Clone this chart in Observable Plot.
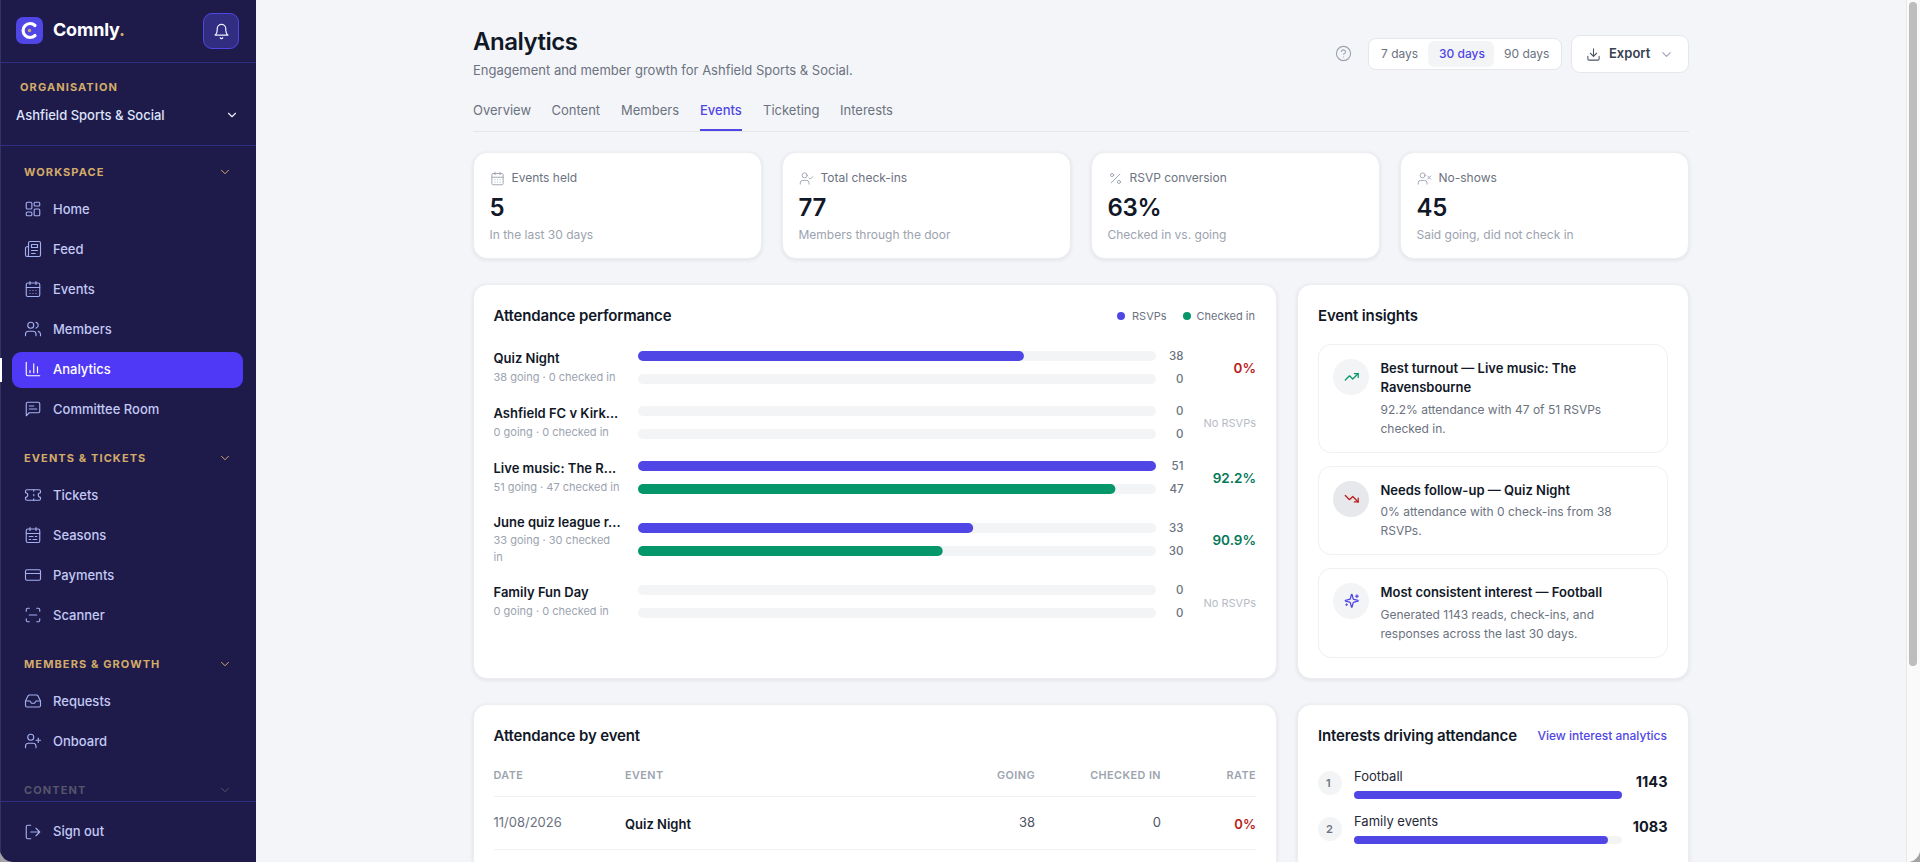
<!DOCTYPE html>
<html lang="en">
<head>
<meta charset="utf-8">
<title>Comnly Analytics</title>
<script src="https://cdn.jsdelivr.net/npm/d3@7"></script>
<script src="https://cdn.jsdelivr.net/npm/@observablehq/plot@0.6"></script>
<style>
html,body{margin:0;padding:0;width:1920px;height:862px;overflow:hidden;background:#a3a3a6;font-family:Inter,"Noto Sans",sans-serif}
#app{position:absolute;left:0;top:0;width:1920px;height:862px;overflow:hidden;border-radius:0 0 13px 13px;background:#f4f5f8}
#app div.t{position:absolute;white-space:nowrap;line-height:20px;height:20px}
.box{position:absolute;box-sizing:border-box}
.card{background:#fff;border:1px solid #eceef1;border-radius:14px;box-shadow:0 1px 4px rgba(17,24,39,.09)}
.inner{background:#fff;border:1px solid #eef0f3;border-radius:13px}
svg.ic{position:absolute;fill:none;stroke-linecap:round;stroke-linejoin:round}
.plotwrap{position:absolute}
.plotwrap svg{overflow:visible;background:transparent;display:block;max-width:none}
</style>
</head>
<body>
<div id="app"></div>
<script>
// ---- data ----
const rowNames = ["Quiz Night", "Ashfield FC v Kirk...", "Live music: The R...", "June quiz league r...", "Family Fun Day"];
const rowSubs = [["38 going · 0 checked in"], ["0 going · 0 checked in"], ["51 going · 47 checked in"], ["33 going · 30 checked", "in"], ["0 going · 0 checked in"]];
const rsvps = [38, 0, 51, 33, 0];
const checkedIn = [0, 0, 47, 30, 0];
const rowRates = ["0%", "No RSVPs", "92.2%", "90.9%", "No RSVPs"];
const seriesNames = ["RSVPs", "Checked in"];
const seriesColors = ["#4f46e5", "#059669"];
const interestNames = ["Football", "Family events"];
const interestValues = [1143, 1083];
const kpiLabels = ["Events held", "Total check-ins", "RSVP conversion", "No-shows"];
const kpiValues = ["5", "77", "63%", "45"];
const kpiNotes = ["In the last 30 days", "Members through the door", "Checked in vs. going", "Said going, did not check in"];
const tabs = ["Overview", "Content", "Members", "Events", "Ticketing", "Interests"];
const ranges = ["7 days", "30 days", "90 days"];

// ---- page furniture ----
const app = document.getElementById("app");
function T(s, x, yc, size, weight, color, o = {}) {
  const d = document.createElement("div");
  d.className = "t";
  d.textContent = s;
  d.style.cssText = `top:${yc - 10}px;font-size:${size}px;font-weight:${weight};color:${color};` +
    (o.right ? `right:${1920 - x}px;` : `left:${x}px;`) + (o.ls ? `letter-spacing:${o.ls}px;` : "");
  app.appendChild(d);
  return d;
}
function B(x, y, w, h, cls, css = "") {
  const d = document.createElement("div");
  d.className = "box " + cls;
  d.style.cssText = `left:${x}px;top:${y}px;width:${w}px;height:${h}px;${css}`;
  app.appendChild(d);
  return d;
}
const P = {
  grid: '<rect x="3" y="3" width="7.5" height="9" rx="1.5"/><rect x="13.5" y="3" width="7.5" height="5" rx="1.5"/><rect x="13.5" y="12" width="7.5" height="9" rx="1.5"/><rect x="3" y="16" width="7.5" height="5" rx="1.5"/>',
  feed: '<path d="M4 22h16a2 2 0 0 0 2-2V4a2 2 0 0 0-2-2H8a2 2 0 0 0-2 2v16a2 2 0 0 1-4 0v-9c0-1.1.9-2 2-2h2"/><path d="M18 14h-8M15 18h-5"/><rect x="10" y="6" width="8" height="4"/>',
  cal: '<path d="M8 2v4M16 2v4"/><rect x="3" y="4" width="18" height="18" rx="2"/><path d="M3 10h18M8 14h.01M12 14h.01M16 14h.01M8 18h.01M12 18h.01M16 18h.01"/>',
  users: '<path d="M16 21v-2a4 4 0 0 0-4-4H6a4 4 0 0 0-4 4v2"/><circle cx="9" cy="7" r="4"/><path d="M22 21v-2a4 4 0 0 0-3-3.87M16 3.13a4 4 0 0 1 0 7.75"/>',
  chart: '<path d="M3 3v16a2 2 0 0 0 2 2h16"/><path d="M8 17v-3M13 17V5M18 17V9"/>',
  msg: '<path d="M21 15a2 2 0 0 1-2 2H7l-4 4V5a2 2 0 0 1 2-2h14a2 2 0 0 1 2 2z"/><path d="M13 8H7M17 12H7"/>',
  ticket: '<path d="M2 9a3 3 0 0 1 0 6v2a2 2 0 0 0 2 2h16a2 2 0 0 0 2-2v-2a3 3 0 0 1 0-6V7a2 2 0 0 0-2-2H4a2 2 0 0 0-2 2z"/><path d="M13 5v2M13 17v2M13 11v2"/>',
  season: '<path d="M8 2v4M16 2v4"/><rect x="3" y="4" width="18" height="18" rx="2"/><path d="M3 10h18M7 14h5M15 14h2M7 18h2M12 18h5"/>',
  card: '<rect x="2" y="5" width="20" height="14" rx="2"/><path d="M2 10h20"/>',
  scan: '<path d="M3 7V5a2 2 0 0 1 2-2h2M17 3h2a2 2 0 0 1 2 2v2M21 17v2a2 2 0 0 1-2 2h-2M7 21H5a2 2 0 0 1-2-2v-2M7 12h10"/>',
  inbox: '<path d="M22 12h-6l-2 3h-4l-2-3H2"/><path d="M5.45 5.11 2 12v6a2 2 0 0 0 2 2h16a2 2 0 0 0 2-2v-6l-3.45-6.89A2 2 0 0 0 16.76 4H7.24a2 2 0 0 0-1.79 1.11z"/>',
  uplus: '<path d="M16 21v-2a4 4 0 0 0-4-4H6a4 4 0 0 0-4 4v2"/><circle cx="9" cy="7" r="4"/><path d="M19 8v6M22 11h-6"/>',
  logout: '<path d="M9 21H5a2 2 0 0 1-2-2V5a2 2 0 0 1 2-2h4M16 17l5-5-5-5M21 12H9"/>',
  bell: '<path d="M6 8a6 6 0 0 1 12 0c0 7 3 9 3 9H3s3-2 3-9"/><path d="M10.3 21a1.94 1.94 0 0 0 3.4 0"/>',
  chev: '<path d="m6 9 6 6 6-6"/>',
  help: '<circle cx="12" cy="12" r="10"/><path d="M9.09 9a3 3 0 0 1 5.83 1c0 2-3 3-3 3M12 17h.01"/>',
  dl: '<path d="M21 15v4a2 2 0 0 1-2 2H5a2 2 0 0 1-2-2v-4M7 10l5 5 5-5M12 15V3"/>',
  pct: '<path d="M19 5 5 19"/><circle cx="6.5" cy="6.5" r="2.5"/><circle cx="17.5" cy="17.5" r="2.5"/>',
  ucheck: '<path d="M16 21v-2a4 4 0 0 0-4-4H6a4 4 0 0 0-4 4v2"/><circle cx="9" cy="7" r="4"/><path d="m16 11 2 2 4-4"/>',
  ux: '<path d="M16 21v-2a4 4 0 0 0-4-4H6a4 4 0 0 0-4 4v2"/><circle cx="9" cy="7" r="4"/><path d="m17 8 5 5M22 8l-5 5"/>',
  up: '<path d="m22 7-8.5 8.5-5-5L2 17"/><path d="M16 7h6v6"/>',
  down: '<path d="m22 17-8.5-8.5-5 5L2 7"/><path d="M16 17h6v-6"/>',
  spark: '<path d="M9.94 15.5A2 2 0 0 0 8.5 14.06l-6.14-1.58a.5.5 0 0 1 0-.96L8.5 9.94A2 2 0 0 0 9.94 8.5l1.58-6.14a.5.5 0 0 1 .96 0l1.58 6.14a2 2 0 0 0 1.44 1.44l6.14 1.58a.5.5 0 0 1 0 .96l-6.14 1.58a2 2 0 0 0-1.44 1.44l-1.58 6.14a.5.5 0 0 1-.96 0z"/><path d="M20 3v4M22 5h-4M4 17v2M5 18H3"/>'
};
function I(name, x, y, size, color, sw = 2) {
  const ns = "http://www.w3.org/2000/svg";
  const s = document.createElementNS(ns, "svg");
  s.setAttribute("class", "ic");
  s.setAttribute("viewBox", "0 0 24 24");
  s.setAttribute("width", size);
  s.setAttribute("height", size);
  s.style.cssText = `left:${x}px;top:${y - size / 2}px;stroke:${color};stroke-width:${sw}`;
  s.innerHTML = P[name];
  app.appendChild(s);
}

// Sidebar
const SB = "#1e1b4b", NAV = "#c3c9f4", NAVI = "#a5b0f0", GOLD = "#d4ac68";
B(0, 0, 256, 862, "", `background:${SB};border-left:1px solid #35335f;`);
B(0, 62, 256, 1, "", "background:#312e81");
B(0, 145, 256, 1, "", "background:#312e81");
B(16, 17, 27, 27, "", "background:#4f46e5;border-radius:7px");
{
  const ns = "http://www.w3.org/2000/svg";
  const s = document.createElementNS(ns, "svg");
  s.setAttribute("viewBox", "0 0 27 27");
  s.setAttribute("width", 27); s.setAttribute("height", 27);
  s.setAttribute("class", "ic");
  s.style.cssText = "left:16px;top:17px";
  s.innerHTML = '<path d="M19 8.5 A7 7 0 1 0 19 18.5" stroke="#fff" stroke-width="3.2" fill="none"/><circle cx="13.5" cy="13.5" r="1.7" fill="#d4ac68"/>';
  app.appendChild(s);
}
const brand = T("Comnly", 53, 30, 18, 700, "#fff", {ls: -0.2});
const dot = document.createElement("span"); dot.textContent = "."; dot.style.color = GOLD; brand.appendChild(dot);
B(203, 13, 36, 36, "", "background:#312e81;border:1px solid #4f46e5;border-radius:9px");
I("bell", 212.5, 31, 17, "#eef0ff", 1.7);
T("ORGANISATION", 20, 87, 11, 700, GOLD, {ls: 1.1});
T("Ashfield Sports & Social", 16, 115, 13, 500, "#dfe3fb");
I("chev", 225, 115, 14, "#eef0ff", 2);
const navSections = [
  ["WORKSPACE", 172, GOLD, [["Home", "grid", 209], ["Feed", "feed", 249], ["Events", "cal", 289], ["Members", "users", 329], ["Analytics", "chart", 369], ["Committee Room", "msg", 409]]],
  ["EVENTS & TICKETS", 458, GOLD, [["Tickets", "ticket", 495], ["Seasons", "season", 535], ["Payments", "card", 575], ["Scanner", "scan", 615]]],
  ["MEMBERS & GROWTH", 664, GOLD, [["Requests", "inbox", 701], ["Onboard", "uplus", 741]]],
  ["CONTENT", 790, "#56546a", []]
];
B(12, 352, 231, 36, "", "background:#4f39f6;border-radius:9px");
B(0, 358, 2, 24, "", "background:#fff");
for (const [h, y, c, items] of navSections) {
  T(h, 24, y, 11, 700, c, {ls: 1.1});
  I("chev", 218, y, 14, c, 1.7);
  for (const [label, ic, iy] of items) {
    const active = label === "Analytics";
    I(ic, 24, iy, 18, active ? "#fff" : NAVI, 1.5);
    T(label, 53, iy, 13, 500, active ? "#fff" : NAV);
  }
}
B(0, 801, 256, 1, "", "background:#312e81");
I("logout", 24, 832, 18, NAVI, 1.5);
T("Sign out", 53, 831, 13, 500, NAV);

// Scrollbar
B(1906, 0, 14, 862, "", "background:#fafafa;border-left:1px solid #e8e8e8");
B(1909, 2, 8, 664, "", "background:#bdbdbd;border-radius:4px");

// Header
T("Analytics", 473, 42, 24, 600, "#111827", {ls: -0.5});
T("Engagement and member growth for Ashfield Sports & Social.", 473, 70, 13, 400, "#6b7280");
const tabX = [473, 551.5, 621, 700, 763, 840];
tabs.forEach((t, i) => T(t, tabX[i], 110, 13, t === "Events" ? 500 : 400, t === "Events" ? "#4f46e5" : "#6b7280"));
B(473, 131, 1216, 1, "", "background:#e5e7eb");
B(700, 129, 42, 2, "", "background:#4f46e5");
I("help", 1335, 53, 17, "#9ca3af", 1.6);
B(1368, 38, 194, 32, "", "background:#fff;border:1px solid #e5e7eb;border-radius:8px");
B(1428, 41, 66, 26, "", "background:#f3f4f6;border-radius:6px");
const rangeX = [1381, 1439, 1504];
ranges.forEach((t, i) => T(t, rangeX[i], 54, 12, i === 1 ? 500 : 400, i === 1 ? "#4f46e5" : "#6b7280"));
B(1571, 35, 118, 38, "", "background:#fff;border:1px solid #e5e7eb;border-radius:9px");
I("dl", 1586, 54, 15, "#4b5563", 1.7);
T("Export", 1609, 53, 13, 600, "#374151");
I("chev", 1659, 54, 15, "#9ca3af", 1.8);

// KPI cards
const kpiX = [473, 782, 1091, 1400], kpiIc = ["cal", "ucheck", "pct", "ux"];
kpiLabels.forEach((l, i) => {
  const x = kpiX[i];
  B(x, 152, 289, 107, "card");
  I(kpiIc[i], x + 17, 178, 15, "#9ca3af", 1.5);
  T(l, x + 38.5, 178, 12, 400, "#6b7280");
  T(kpiValues[i], x + 16.5, 208, 24, 600, "#111827", {ls: -0.3});
  T(kpiNotes[i], x + 16.5, 235, 12, 400, "#9ca3af");
});

// Panels
B(473, 284, 804, 395, "card");
B(1297, 284, 392, 395, "card");
B(473, 704, 804, 300, "card");
B(1297, 704, 392, 300, "card");

T("Attendance performance", 493.5, 316, 15, 600, "#111827", {ls: -0.15});
seriesNames.forEach((s, i) => {
  const dx = [1117, 1183][i], tx = [1132, 1196.5][i];
  B(dx, 312, 8, 8, "", `background:${seriesColors[i]};border-radius:50%`);
  T(s, tx, 316, 11, 400, "#6b7280");
});

// Attendance rows — every bar and count comes from Plot
const rowTop = [351, 406, 461, 522.5, 585];
const nameY = [358, 413, 468, 522, 592];
const subY = [[377], [432], [487], [540, 557], [610.5]];
const rateY = [368, 423, 478, 540, 603];
const rsvpMax = d3.max(rsvps);
function rowPlot(i) {
  const rows = [
    {series: seriesNames[0], value: rsvps[i]},
    {series: seriesNames[1], value: checkedIn[i]}
  ];
  return Plot.plot({
    width: 546, height: 33,
    marginLeft: 0, marginRight: 28, marginTop: 0, marginBottom: 0,
    style: {background: "transparent", overflow: "visible", fontFamily: "Inter"},
    x: {domain: [0, rsvpMax], axis: null},
    y: {type: "band", domain: seriesNames, paddingInner: 13 / 23, paddingOuter: 0, round: false, axis: null},
    color: {domain: seriesNames, range: seriesColors},
    marks: [
      Plot.barX(rows, {x1: () => 0, x2: () => rsvpMax, y: "series", fill: "#f3f4f6", rx: 5}),
      Plot.barX(rows.filter(d => d.value > 0), {x1: () => 0, x2: "value", y: "series", fill: "series", rx: 5}),
      Plot.text(rows, {x: () => rsvpMax, y: "series", text: d => String(d.value), dx: 27, textAnchor: "end", fontSize: 11.5, fontWeight: 500, fill: "#6b7280"})
    ]
  });
}
rowNames.forEach((n, i) => {
  T(n, 493.5, nameY[i], 13, 600, "#111827");
  rowSubs[i].forEach((s, k) => T(s, 493.5, subY[i][k], 11, 400, "#9ca3af"));
  const r = rowRates[i];
  if (r === "No RSVPs") T(r, 1256, rateY[i], 11, 400, "#b6bbc4", {right: true});
  else T(r, 1256, rateY[i], 13.5, 600, r === "0%" ? "#b91c1c" : "#047857", {right: true});
  const w = document.createElement("div");
  w.className = "plotwrap";
  w.style.cssText = `left:638px;top:${rowTop[i]}px;width:546px;height:33px`;
  w.appendChild(rowPlot(i));
  app.appendChild(w);
});

// Insights
T("Event insights", 1318, 316, 15, 600, "#111827", {ls: -0.15});
const insights = [
  {y: 344, h: 109, cy: 377, ic: "up", col: "#059669", bg: "#f3f4f6", title: ["Best turnout — Live music: The", "Ravensbourne"], ty: [368, 387], desc: ["92.2% attendance with 47 of 51 RSVPs", "checked in."], dy: [410, 429]},
  {y: 466, h: 89, cy: 499, ic: "down", col: "#b91c1c", bg: "#e7e8eb", title: ["Needs follow-up — Quiz Night"], ty: [490], desc: ["0% attendance with 0 check-ins from 38", "RSVPs."], dy: [512, 531]},
  {y: 568, h: 90, cy: 601, ic: "spark", col: "#4f46e5", bg: "#f3f4f6", title: ["Most consistent interest — Football"], ty: [592], desc: ["Generated 1143 reads, check-ins, and", "responses across the last 30 days."], dy: [615, 634]}
];
for (const c of insights) {
  B(1318, c.y, 350, c.h, "inner");
  B(1333, c.cy - 18, 36, 36, "", `background:${c.bg};border-radius:50%`);
  I(c.ic, 1343.5, c.cy, 15.5, c.col, 1.9);
  c.title.forEach((s, k) => T(s, 1380.5, c.ty[k], 13, 600, "#111827"));
  c.desc.forEach((s, k) => T(s, 1380.5, c.dy[k], 12, 400, "#6b7280"));
}

// Table
T("Attendance by event", 493.5, 736, 15, 600, "#111827", {ls: -0.15});
const H = (s, x, r) => T(s, x, 776, 10.8, 600, "#9ca3af", {right: r, ls: 0.45});
H("DATE", 493.5); H("EVENT", 625); H("GOING", 1035, true); H("CHECKED IN", 1161, true); H("RATE", 1256, true);
B(493.5, 796, 762, 1, "", "background:#eef0f3");
T("11/08/2026", 493.5, 822, 13, 400, "#6b7280");
T(rowNames[0], 625, 824, 13, 600, "#111827");
T(String(rsvps[0]), 1035, 822, 13, 400, "#4b5563", {right: true});
T(String(checkedIn[0]), 1161, 822, 13, 400, "#4b5563", {right: true});
T(rowRates[0], 1256, 824, 13, 600, "#b91c1c", {right: true});
B(493.5, 849, 762, 1, "", "background:#f0f1f4");

// Interests
T("Interests driving attendance", 1318, 736, 15, 600, "#111827", {ls: -0.15});
T("View interest analytics", 1667, 736, 12, 500, "#4f46e5", {right: true});
const rankY = [783, 829];
interestNames.forEach((n, i) => {
  B(1318, rankY[i] - 12, 24, 24, "", "background:#f3f4f6;border-radius:50%");
  T(String(i + 1), 1326, rankY[i], 11, 600, "#6b7280");
});
const interestRows = interestNames.map((name, i) => ({name, value: interestValues[i]}));
const iMax = d3.max(interestValues);
const iw = document.createElement("div");
iw.className = "plotwrap";
iw.style.cssText = "left:1354px;top:791px;width:313px;height:53px";
iw.appendChild(Plot.plot({
  width: 313, height: 53,
  marginLeft: 0, marginRight: 45, marginTop: 0, marginBottom: 0,
  style: {background: "transparent", overflow: "visible", fontFamily: "Inter"},
  x: {domain: [0, iMax], axis: null},
  y: {type: "band", domain: interestNames, paddingInner: 37 / 45, paddingOuter: 0, round: false, axis: null},
  marks: [
    Plot.barX(interestRows, {x1: () => 0, x2: () => iMax, y: "name", fill: "#f3f4f6", rx: 4}),
    Plot.barX(interestRows, {x1: () => 0, x2: "value", y: "name", fill: "#4f46e5", rx: 4}),
    Plot.text(interestRows, {x: () => 0, y: "name", text: "name", dx: -0.5, dy: -18.5, textAnchor: "start", fontSize: 13, fill: "#1f2937"}),
    Plot.text(interestRows, {x: () => iMax, y: "name", text: d => String(d.value), dx: 45, dy: -13, textAnchor: "end", fontSize: 14.5, fontWeight: 700, fill: "#111827"})
  ]
}));
app.appendChild(iw);
</script>
</body>
</html>
